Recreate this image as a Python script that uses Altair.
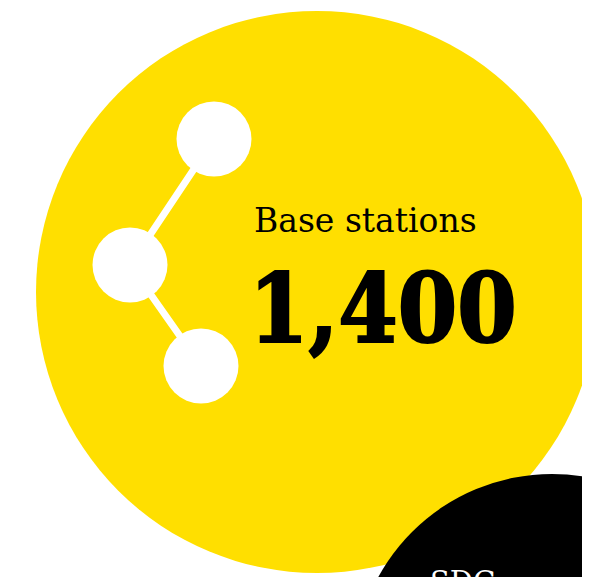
import altair as alt
import pandas as pd

# circles: picture coordinates (px)
disc_x = [317, 552]
disc_y = [292, 672]
disc_d = [562, 396]
disc_color = ["#ffdf00", "#000000"]

node_x = [214, 130, 201]
node_y = [139, 265, 366]
node_d = 75

text_x = [254, 249, 430]
text_y = [232, 342, 592]
text_str = ["Base stations", "1,400", "SDG"]
text_size = [33, 95, 29]
text_weight = ["normal", "bold", "normal"]
text_font = ["DejaVu Serif", "DejaVu Serif Condensed", "DejaVu Serif"]
text_color = ["#000000", "#000000", "#ffffff"]
text_stroke = [0, 2, 0]

W, H = 574, 569
X = alt.Scale(domain=[8, 8 + W], range=[0, W])
Y = alt.Scale(domain=[8, 8 + H], range=[0, H])
ax = dict(axis=None, scale=X)
ay = dict(axis=None, scale=Y)

discs = pd.DataFrame({"x": disc_x, "y": disc_y, "s": [d ** 2 for d in disc_d], "c": disc_color})
nodes = pd.DataFrame({"x": node_x, "y": node_y, "o": [0, 1, 2]})

layers = [
    alt.Chart(discs).mark_point(filled=True, opacity=1, shape="circle", clip=True, strokeWidth=0).encode(
        x=alt.X("x:Q", **ax), y=alt.Y("y:Q", **ay),
        size=alt.Size("s:Q", scale=None, legend=None),
        color=alt.Color("c:N", scale=None, legend=None),
        order=alt.Order("s:Q", sort="descending"),
    ),
    alt.Chart(nodes).mark_line(color="#ffffff", strokeWidth=7, clip=True).encode(
        x=alt.X("x:Q", **ax), y=alt.Y("y:Q", **ay), order="o:Q"
    ),
    alt.Chart(nodes).mark_point(filled=True, opacity=1, shape="circle", color="#ffffff", size=node_d ** 2, strokeWidth=0, clip=True).encode(
        x=alt.X("x:Q", **ax), y=alt.Y("y:Q", **ay)
    ),
]
for x, y, t, s, w, c, f, sw in zip(text_x, text_y, text_str, text_size, text_weight, text_color, text_font, text_stroke):
    layers.append(
        alt.Chart(pd.DataFrame({"x": [x], "y": [y], "t": [t]})).mark_text(
            font=f, fontSize=s, fontWeight=w, color=c, stroke=c, strokeWidth=sw,
            align="left", baseline="alphabetic", clip=True
        ).encode(x=alt.X("x:Q", **ax), y=alt.Y("y:Q", **ay), text="t:N")
    )

chart = alt.layer(*layers).properties(
    width=W, height=H, padding=0, autosize=alt.AutoSizeParams(type="none"), background="#ffffff"
).configure_view(stroke=None).resolve_scale(size="independent", color="independent")
chart.save("out.html", embed_options={"renderer": "svg", "actions": False})
